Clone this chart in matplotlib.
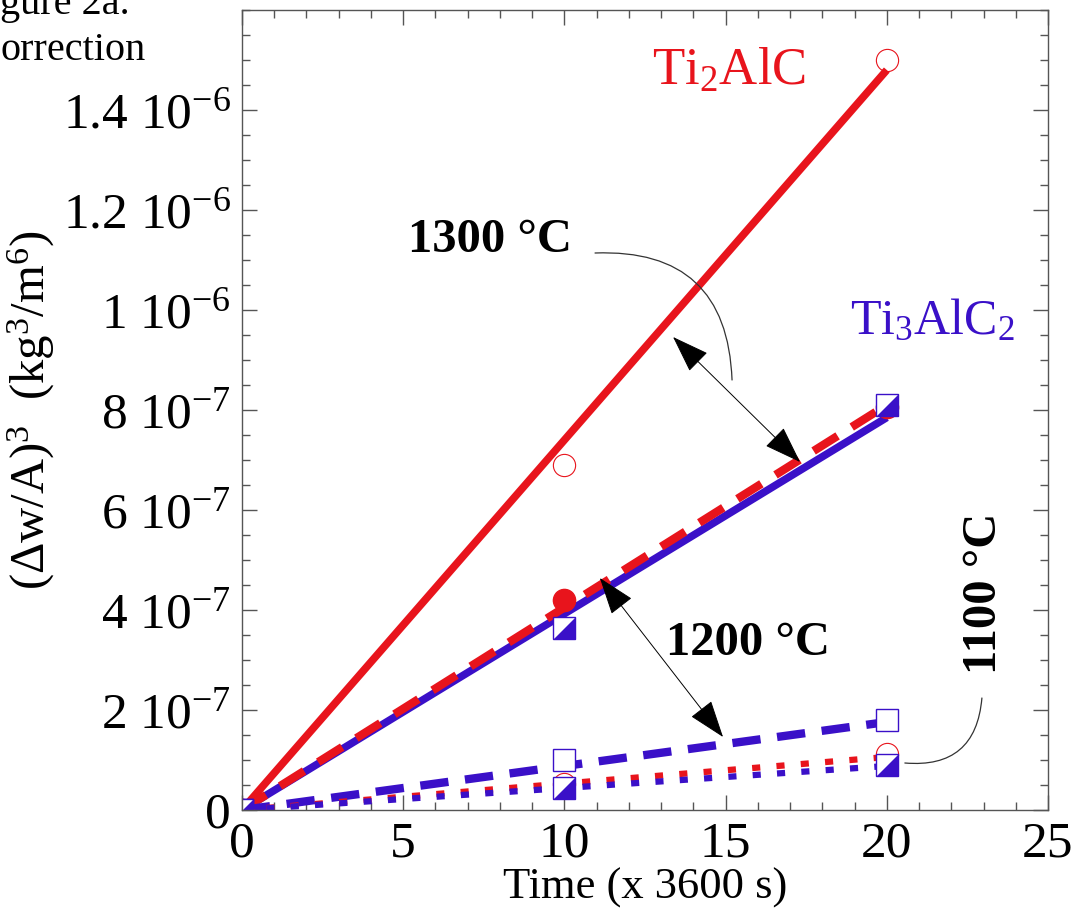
import matplotlib
matplotlib.use('Agg')
import matplotlib.pyplot as plt
from matplotlib.ticker import MultipleLocator, FixedLocator, FixedFormatter

plt.rcParams['font.family'] = ['Liberation Serif', 'DejaVu Serif']
plt.rcParams['mathtext.fontset'] = 'custom'
plt.rcParams['mathtext.rm'] = 'Liberation Serif'
plt.rcParams['mathtext.it'] = 'Liberation Serif:italic'
plt.rcParams['mathtext.bf'] = 'Liberation Serif:bold'

#%% data
t_pts = [0, 10, 20]
t_fit = [0, 20]

# 1300 C
ti2_1300 = [0, 6.9e-7, 1.50e-6]
ti2_1300_fit = [0, 1.48e-6]
ti3_1300 = [0, 3.65e-7, 8.1e-7]
ti3_1300_fit = [0, 7.85e-7]

# 1200 C
ti2_1200 = [0, 4.2e-7, 8.05e-7]
ti2_1200_fit = [0, 8.1e-7]
ti3_1200 = [0, 1.0e-7, 1.8e-7]
ti3_1200_fit = [0, 1.76e-7]

# 1100 C
ti2_1100 = [0, 5.2e-8, 1.12e-7]
ti2_1100_fit = [0, 1.06e-7]
ti3_1100 = [0, 4.4e-8, 9.0e-8]
ti3_1100_fit = [0, 8.8e-8]

yticks = [0, 2e-7, 4e-7, 6e-7, 8e-7, 1e-6, 1.2e-6, 1.4e-6]
ytick_labels = ['0', r'2 10$^{-7}$', r'4 10$^{-7}$', r'6 10$^{-7}$', r'8 10$^{-7}$',
                r'1 10$^{-6}$', r'1.2 10$^{-6}$', r'1.4 10$^{-6}$']

#%% styles
red = '#E8141C'
blue = '#3A10C8'
ms = 16
lw = 5.5
half_tri = [(-1, -1), (1, -1), (1, 1)]

fig = plt.figure(figsize=(10.77, 9.22), dpi=100)
ax = fig.add_axes([242/1077, 112/922, 806/1077, 800/922])

# fit lines
ax.plot(t_fit, ti2_1300_fit, color=red, lw=lw, solid_capstyle='butt')
ax.plot(t_fit, ti3_1300_fit, color=blue, lw=lw, solid_capstyle='butt')
ax.plot(t_fit, ti2_1200_fit, color=red, lw=6, ls=(0, (3.4, 2)))
ax.plot(t_fit, ti3_1200_fit, color=blue, lw=6, ls=(0, (3.4, 2)))
ax.plot(t_fit, ti2_1100_fit, color=red, lw=4.5, ls=(0, (1.3, 2.6)))
ax.plot(t_fit, ti3_1100_fit, color=blue, lw=4.5, ls=(0, (1.3, 2.6)))

# markers
ax.plot(t_pts, ti2_1200, 'o', color=red, ms=ms, ls='none')
ax.plot(t_pts, ti2_1300, 'o', mfc='none', mec=red, mew=0.8, ms=ms, ls='none')
ax.plot(t_pts, ti2_1100, 'o', mfc='none', mec=red, mew=0.8, ms=ms, ls='none')
ax.plot(t_pts, ti3_1200, 's', mfc='white', mec=blue, mew=1.0, ms=ms, ls='none')
for ys in (ti3_1300, ti3_1100):
    ax.plot(t_pts, ys, 's', mfc='white', mec=blue, mew=1.0, ms=ms, ls='none')
    ax.plot(t_pts, ys, marker=half_tri, mfc=blue, mec=blue, mew=0.5, ms=ms, ls='none')

# axes
ax.set_xlim(0, 25)
ax.set_ylim(0, 1.6e-6)
ax.xaxis.set_major_locator(MultipleLocator(5))
ax.xaxis.set_minor_locator(MultipleLocator(1))
ax.yaxis.set_major_locator(FixedLocator(yticks))
ax.yaxis.set_major_formatter(FixedFormatter(ytick_labels))
ax.yaxis.set_minor_locator(MultipleLocator(5e-8))
ax.tick_params(which='both', direction='in', top=True, right=True, color='#555555')
ax.tick_params(which='major', length=11, width=1, labelsize=37, pad=8)
ax.tick_params(which='minor', length=6, width=1)
for s in ax.spines.values():
    s.set_color('#555555')
    s.set_linewidth(1)

ax.set_xlabel('Time (x 3600 s)', fontsize=32, labelpad=0)
ax.set_ylabel(r'($\Delta$w/A)$^3$  (kg$^3$/m$^6$)', fontsize=35, labelpad=4)

# labels
ax.text(15.1, 1.476e-6, r'Ti$_2$AlC', color=red, fontsize=38, ha='center', va='center')
ax.text(21.4, 0.976e-6, r'Ti$_3$AlC$_2$', color=blue, fontsize=36, ha='center', va='center')
ax.text(7.69, 1.14e-6, '1300 °C', fontsize=35, fontweight='bold', ha='center', va='center')
ax.text(15.7, 0.334e-6, '1200 °C', fontsize=35, fontweight='bold', ha='center', va='center')
ax.text(23.0, 0.434e-6, '1100 °C', fontsize=35, fontweight='bold', ha='center', va='center',
        rotation=90)

arr = dict(arrowstyle='<|-|>,head_length=0.8,head_width=0.28', mutation_scale=30,
           color='black', lw=0.7, shrinkA=0, shrinkB=0)
ax.annotate('', xy=(17.31, 0.696e-6), xytext=(13.37, 0.946e-6), arrowprops=arr)
ax.annotate('', xy=(14.92, 0.146e-6), xytext=(11.1, 0.464e-6), arrowprops=arr)

arc = dict(arrowstyle='-', color='#333333', lw=0.9, shrinkA=0, shrinkB=0,
           connectionstyle='arc3,rad=-0.5')
ax.annotate('', xy=(15.2, 0.86e-6), xytext=(10.95, 1.114e-6), arrowprops=arc)
ax.annotate('', xy=(20.56, 0.094e-6), xytext=(22.95, 0.224e-6), arrowprops=arc)

# caption text partly outside the crop, as in the source image
fig.text(0, 1 - 14/922, 'gure 2a.', fontsize=29, ha='left', va='baseline')
fig.text(0, 1 - 60/922, 'orrection', fontsize=29, ha='left', va='baseline')

plt.savefig('out.png', dpi=100)
